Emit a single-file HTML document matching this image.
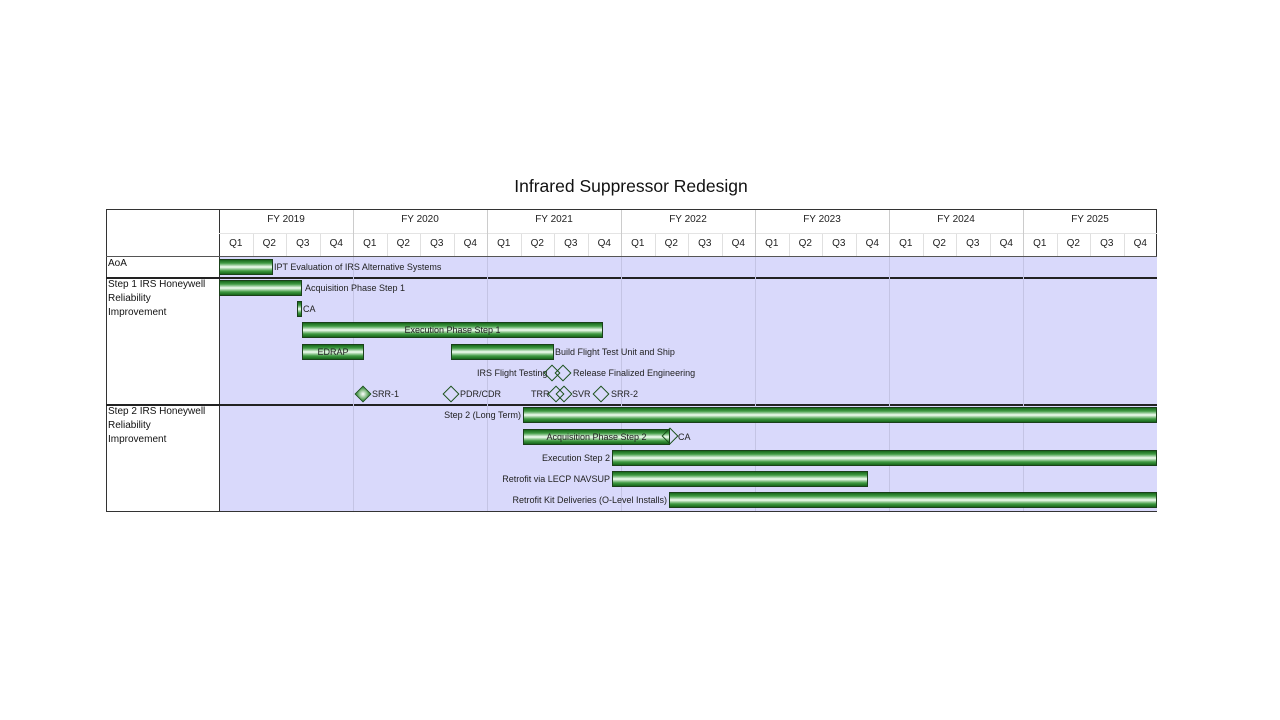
<!DOCTYPE html>
<html><head><meta charset="utf-8"><style>
body{margin:0;width:1280px;height:720px;background:#fff;position:relative;font-family:"Liberation Sans",sans-serif;overflow:hidden}
.a{position:absolute}
.t{position:absolute;font-size:9px;color:#222;white-space:nowrap;line-height:12px}
.bar{position:absolute;height:16px;border:1px solid #1a401a;box-sizing:border-box;background:linear-gradient(#17661a 0%,#3f9a42 22%,#f4fff4 50%,#3f9a42 78%,#17661a 100%)}
.d{position:absolute;width:12px;height:12px;border:1.6px solid #184f18;transform:rotate(45deg);box-sizing:border-box}
.h{position:absolute;font-size:10px;color:#222;text-align:center;line-height:12px}
.lbl{position:absolute;font-size:10px;color:#111;line-height:14px;left:108px}
</style></head><body>
<div class="a" style="left:0;top:176px;width:1262px;text-align:center;font-size:17.5px;color:#111">Infrared Suppressor Redesign</div>
<div class="a" style="left:106px;top:209px;width:1051px;height:303px;border:1px solid #333;box-sizing:border-box"></div>
<div class="a" style="left:219px;top:257px;width:938px;height:254px;background:#d9d9fb"></div>
<div class="a" style="left:219px;top:209px;width:1px;height:303px;background:#333"></div>
<div class="a" style="left:219px;top:233px;width:938px;height:1px;background:#e4e4e4"></div>
<div class="a" style="left:106px;top:256px;width:1051px;height:1px;background:#555"></div>
<div class="a" style="left:106px;top:277px;width:1051px;height:2px;background:#222"></div>
<div class="a" style="left:106px;top:404px;width:1051px;height:2px;background:#222"></div>
<div id="g"></div>
<div class="lbl" style="top:257px">AoA</div>
<div class="lbl" style="top:278px">Step 1 IRS Honeywell<br>Reliability<br>Improvement</div>
<div class="lbl" style="top:405px">Step 2 IRS Honeywell<br>Reliability<br>Improvement</div>

<div class="bar" style="left:219px;top:259px;width:54px"></div><div class="t" style="left:274px;top:261px">IPT Evaluation of IRS Alternative Systems</div>
<div class="bar" style="left:219px;top:280px;width:83px"></div><div class="t" style="left:305px;top:282px">Acquisition Phase Step 1</div>
<div class="bar" style="left:297px;top:301px;width:5px"></div><div class="t" style="left:303px;top:303px">CA</div>
<div class="bar" style="left:302px;top:322px;width:301px"></div><div class="t" style="left:302px;top:324px;width:301px;text-align:center">Execution Phase Step 1</div>
<div class="bar" style="left:302px;top:344px;width:62px"></div><div class="t" style="left:302px;top:346px;width:62px;text-align:center">EDRAP</div>
<div class="bar" style="left:451px;top:344px;width:103px"></div><div class="t" style="left:555px;top:346px">Build Flight Test Unit and Ship</div>
<div class="t" style="left:477px;top:367px">IRS Flight Testing</div>
<div class="d" style="left:546px;top:367px"></div><div class="d" style="left:557px;top:367px"></div>
<div class="t" style="left:573px;top:367px">Release Finalized Engineering</div>
<div class="d" style="left:357px;top:388px;background:radial-gradient(#fff,#2a8a2a)"></div><div class="t" style="left:372px;top:388px">SRR-1</div>
<div class="d" style="left:445px;top:388px"></div><div class="t" style="left:460px;top:388px">PDR/CDR</div>
<div class="t" style="left:531px;top:388px">TRR</div>
<div class="d" style="left:550px;top:388px"></div><div class="d" style="left:558px;top:388px"></div>
<div class="t" style="left:572px;top:388px">SVR</div>
<div class="d" style="left:595px;top:388px"></div><div class="t" style="left:611px;top:388px">SRR-2</div>

<div class="t" style="left:420px;top:409px;width:101px;text-align:right">Step 2 (Long Term)</div>
<div class="bar" style="left:523px;top:407px;width:634px"></div>
<div class="bar" style="left:523px;top:429px;width:147px"></div><div class="t" style="left:523px;top:431px;width:147px;text-align:center">Acquisition Phase Step 2</div>
<div class="d" style="left:664px;top:430px"></div><div class="t" style="left:678px;top:431px">CA</div>
<div class="t" style="left:480px;top:452px;width:130px;text-align:right">Execution Step 2</div>
<div class="bar" style="left:612px;top:450px;width:545px"></div>
<div class="t" style="left:450px;top:473px;width:160px;text-align:right">Retrofit via LECP NAVSUP</div>
<div class="bar" style="left:612px;top:471px;width:256px"></div>
<div class="t" style="left:450px;top:494px;width:217px;text-align:right">Retrofit Kit Deliveries (O-Level Installs)</div>
<div class="bar" style="left:669px;top:492px;width:488px"></div>
<script>
var g=document.getElementById('g'),h='';
for(var y=0;y<7;y++){var x=219+y*134;
h+='<div class="h" style="left:'+x+'px;top:214px;width:134px">FY '+(2019+y)+'</div>';
if(y>0){h+='<div class="a" style="left:'+x+'px;top:210px;width:1px;height:46px;background:#ccc"></div>';
h+='<div class="a" style="left:'+x+'px;top:257px;width:1px;height:254px;background:#c4c4e4"></div>';}
for(var q=0;q<4;q++){var qx=x+q*33.5;
h+='<div class="h" style="left:'+qx+'px;top:238px;width:33.5px">Q'+(q+1)+'</div>';
if(q>0)h+='<div class="a" style="left:'+qx+'px;top:234px;width:1px;height:22px;background:#e0e0e0"></div>';}}
g.innerHTML=h;
</script>
</body></html>
